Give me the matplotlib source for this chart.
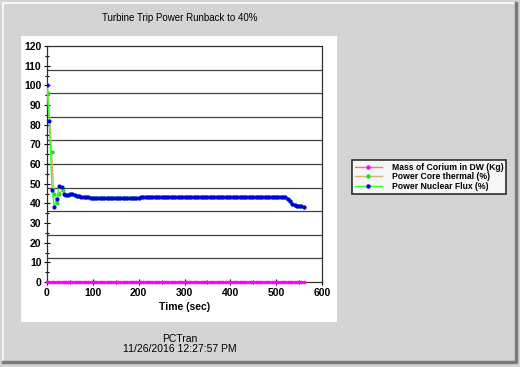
import matplotlib
matplotlib.use("Agg")
from matplotlib import pyplot as plt
from matplotlib.lines import Line2D
from matplotlib.patches import Rectangle
from matplotlib.ticker import MultipleLocator

# --- data ---
flux_time = [0, 5, 11, 16, 21, 27, 32, 38, 41,
             45, 50, 55, 60, 65, 70, 75, 80, 85, 90,
             95, 100, 105, 110, 115, 120, 125, 130, 135, 140,
             145, 150, 155, 160, 165, 170, 175, 180, 185, 190,
             195, 200, 205, 210, 215, 220, 225, 230, 235, 240,
             245, 250, 255, 260, 265, 270, 275, 280, 285, 290,
             295, 300, 305, 310, 315, 320, 325, 330, 335, 340,
             345, 350, 355, 360, 365, 370, 375, 380, 385, 390,
             395, 400, 405, 410, 415, 420, 425, 430, 435, 440,
             445, 450, 455, 460, 465, 470, 475, 480, 485, 490,
             495, 500, 505, 510, 515, 520, 525, 530, 535, 540,
             545, 550, 555, 560]
flux = [100, 82, 47, 38, 42, 49, 48.5, 45, 44,
        44.0, 45.0, 44.8, 44.2, 43.8, 43.5, 43.4, 43.2, 43.1, 43.0,
        42.9, 42.8, 42.8, 42.8, 42.8, 42.8, 42.8, 42.8, 42.8, 42.8,
        42.8, 42.8, 42.8, 42.8, 42.8, 42.8, 42.8, 42.8, 42.8, 42.8,
        42.8, 42.8, 43.0, 43.3, 43.4, 43.4, 43.4, 43.4, 43.4, 43.4,
        43.4, 43.4, 43.4, 43.4, 43.4, 43.4, 43.4, 43.4, 43.4, 43.4,
        43.4, 43.4, 43.3, 43.3, 43.3, 43.3, 43.3, 43.3, 43.3, 43.3,
        43.3, 43.3, 43.3, 43.3, 43.3, 43.3, 43.3, 43.3, 43.3, 43.3,
        43.3, 43.3, 43.3, 43.3, 43.3, 43.3, 43.3, 43.3, 43.3, 43.3,
        43.3, 43.3, 43.3, 43.3, 43.3, 43.3, 43.3, 43.3, 43.3, 43.3,
        43.3, 43.3, 43.3, 43.3, 43.2, 43.0, 42.3, 41.0, 39.5, 39.0,
        38.8, 38.6, 38.4, 38.2]

thermal_time = [0, 2, 10, 15, 21, 26, 35, 40] + flux_time[9:]
thermal = [100, 96, 66, 45, 40, 45, 47, 44] + flux[9:]

corium_time = flux_time
corium = [0.0] * len(flux_time)

labels = ["Mass of Corium in DW (Kg)", "Power Core thermal (%)", "Power Nuclear Flux (%)"]
line_colors = ["#ff7070", "#e0b070", "#30ff30"]
marker_colors = ["#ff00ff", "#20e020", "#0000e0"]

W, H = 520, 367
fig = plt.figure(figsize=(W / 100, H / 100), dpi=100)
fig.patch.set_facecolor("#d4d4d4")
plt.rcParams["font.family"] = ["Liberation Sans", "DejaVu Sans"]


def px(x0, y0, x1, y1):
    # pixel box -> figure fraction [left, bottom, width, height]
    return [x0 / W, 1 - y1 / H, (x1 - x0) / W, (y1 - y0) / H]


# window bevel
fig.add_artist(Line2D([3 / W, 3 / W, 516 / W], [1 - 363 / H, 1 - 3 / H, 1 - 3 / H],
                      color="white", lw=1.2))
fig.add_artist(Line2D([3 / W, 516 / W, 516 / W], [1 - 362 / H, 1 - 362 / H, 1 - 3 / H],
                      color="#7a7a7a", lw=2.5))

# white panel behind plot
l, b, w, h = px(21, 36, 337, 322)
fig.add_artist(Rectangle((l, b), w, h, transform=fig.transFigure, facecolor="white",
                         edgecolor="none", zorder=0))

ax = fig.add_axes(px(47, 46, 322, 282))
ax.set_facecolor("white")

ax.plot(corium_time, corium, color=line_colors[0], lw=1, marker="o", ms=1.6,
        mfc=marker_colors[0], mec=marker_colors[0], zorder=3, clip_on=False)
ax.plot(thermal_time, thermal, color=line_colors[1], lw=1, marker="o", ms=2.0,
        mfc=marker_colors[1], mec=marker_colors[1], zorder=4)
ax.plot(flux_time, flux, color=line_colors[2], lw=1, marker="o", ms=2.0,
        mfc=marker_colors[2], mec=marker_colors[2], zorder=5)

ax.set_xlim(0, 600)
ax.set_ylim(0, 120)
ax.xaxis.set_major_locator(MultipleLocator(100))
ax.xaxis.set_minor_locator(MultipleLocator(50))
ax.yaxis.set_major_locator(MultipleLocator(10))
ax.yaxis.set_minor_locator(MultipleLocator(5))
ax.tick_params(which="both", direction="inout", length=4, width=0.8, labelsize=7.5, pad=2)
ax.tick_params(which="minor", length=3)
for lab in ax.get_xticklabels() + ax.get_yticklabels():
    lab.set_fontweight("bold")

# horizontal grid every 12 units (10 divisions)
for g in [12, 24, 36, 48, 60, 72, 84, 96, 108]:
    ax.axhline(g, color="#404040", lw=0.9, zorder=1)
for s in ax.spines.values():
    s.set_color("#303030")
    s.set_linewidth(0.9)

ax.set_xlabel("Time (sec)", fontsize=7.5, fontweight="bold", labelpad=3)

fig.text(180 / W, 1 - 18 / H, "Turbine Trip Power Runback to 40%", ha="center", va="center",
         fontsize=7)
fig.text(180 / W, 1 - 339 / H, "PCTran", ha="center", va="center", fontsize=7.5)
fig.text(180 / W, 1 - 349 / H, "11/26/2016 12:27:57 PM", ha="center", va="center", fontsize=7.5)

handles = [Line2D([], [], color=line_colors[i], lw=1, marker="o", ms=2.2,
                  mfc=marker_colors[i], mec=marker_colors[i]) for i in range(3)]
leg = fig.legend(handles, labels, loc="upper left", bbox_to_anchor=(352 / W, 1 - 160 / H),
                 frameon=True, fancybox=False, prop={"weight": "bold", "size": 6.2},
                 handlelength=3.2, handletextpad=1.1, labelspacing=0.1, borderpad=0.3,
                 borderaxespad=0)
leg.get_frame().set_edgecolor("black")
leg.get_frame().set_linewidth(1.2)

fig.savefig("out.png", dpi=100, facecolor=fig.get_facecolor())
